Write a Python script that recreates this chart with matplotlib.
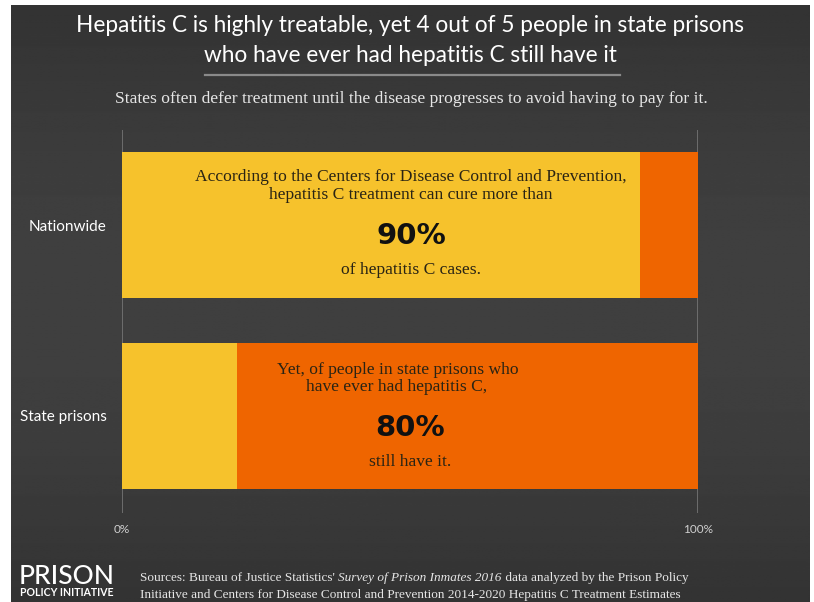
import numpy as np
import matplotlib.pyplot as plt

# Share of people who have had hepatitis C: cleared (yellow) vs still infected (orange)
categories = ['Nationwide', 'State prisons']
cleared = [90, 20]
still_have = [10, 80]
headline = [90, 80]
tick_pos = [0, 100]
tick_labels = ['0%', '100%']

title_lines = ['Hepatitis C is highly treatable, yet 4 out of 5 people in state prisons',
               'who have ever had hepatitis C still have it']
subtitle = 'States often defer treatment until the disease progresses to avoid having to pay for it.'

YELLOW = '#F6C22C'
ORANGE = '#EF6500'
SANS = ['Lato', 'DejaVu Sans']
SERIF = ['Liberation Serif', 'DejaVu Serif']

W, H = 814, 602
fig = plt.figure(figsize=(W / 100, H / 100), dpi=100, facecolor='white')

def fx(px):
    return px / W

def fy(py):
    return 1 - py / H

# dark panel with a soft vertical gradient
bg = fig.add_axes([fx(11), 0, fx(810) - fx(11), fy(5)])
grad = np.linspace(0, 1, 256)
shade = 0.20 + 0.05 * np.sin(np.pi * grad)
bg.imshow(np.repeat(shade[:, None], 2, axis=1), cmap='gray', vmin=0, vmax=1,
          aspect='auto', extent=[0, 1, 0, 1])
bg.axis('off')

# bars
ax = fig.add_axes([fx(122), fy(513), fx(698) - fx(122), fy(130) - fy(513)])
ax.set_facecolor('none')
y = np.arange(len(categories))
ax.barh(y, cleared, height=0.765, color=YELLOW, zorder=2)
ax.barh(y, still_have, left=cleared, height=0.765, color=ORANGE, zorder=2)
for x in tick_pos:
    ax.axvline(x, color='#717171', lw=1.3, zorder=1)
ax.set_xlim(0, 100)
ax.set_ylim(1.51, -0.5)
for s in ax.spines.values():
    s.set_visible(False)
ax.set_xticks(tick_pos)
ax.set_xticklabels(tick_labels, family=SANS, fontsize=8.5, color='#d0d0d0')
ax.set_yticks(y)
ax.set_yticklabels(categories, family=SANS, fontsize=11, color='white')
ax.tick_params(length=0)
ax.tick_params(axis='x', pad=8)
ax.tick_params(axis='y', pad=11)

# notes inside the bars
txt = dict(family=SERIF, fontsize=12.6, color='#2a2414', ha='center', va='center')
big = dict(family=['DejaVu Sans'], fontsize=21, fontweight='bold', color='#111111',
           ha='center', va='center')
ax.text(50.2, -0.251, 'According to the Centers for Disease Control and Prevention,', **txt)
ax.text(50.2, -0.157, 'hepatitis C treatment can cure more than', **txt)
ax.text(50.2, 0.058, f'{headline[0]}%', **big)
ax.text(50.2, 0.236, 'of hepatitis C cases.', **txt)
ax.text(47.9, 0.759, 'Yet, of people in state prisons who', **txt)
ax.text(47.6, 0.848, 'have ever had hepatitis C,', **txt)
ax.text(50.0, 1.063, f'{headline[1]}%', **big)
ax.text(50.0, 1.241, 'still have it.', **txt)

# heading
for line, py in zip(title_lines, [26, 55]):
    fig.text(fx(410), fy(py), line, family=SANS, fontsize=16.3, color='white',
             ha='center', va='center')
fig.add_artist(plt.Line2D([fx(205), fx(620)], [fy(75), fy(75)], color='#8a8a8a', lw=1.6))
fig.text(fx(411), fy(99), subtitle, family=SERIF, fontsize=12.6, color='#e6e6e6',
         ha='center', va='center')

# logo
fig.text(fx(19), fy(576), 'PRISON', family=SANS, fontsize=19, fontweight='medium',
         color='white', ha='left', va='center')
fig.text(fx(20), fy(593), 'POLICY INITIATIVE', family=SANS, fontsize=7.6, fontweight='bold',
         color='white', ha='left', va='center')

# sources, with the survey title in italics
renderer = fig.canvas.get_renderer()
src = dict(family=SERIF, fontsize=9.5, color='#e6e6e6', va='center')
x0 = fx(140)
parts = [("Sources: Bureau of Justice Statistics' ", 'normal'),
         ('Survey of Prison Inmates 2016', 'italic'),
         (' data analyzed by the Prison Policy', 'normal')]
xc = x0
for s, style in parts:
    t = fig.text(xc, fy(578), s, style=style, ha='left', **src)
    xc += t.get_window_extent(renderer).width / W
fig.text(x0, fy(595), 'Initiative and Centers for Disease Control and Prevention '
         '2014-2020 Hepatitis C Treatment Estimates', ha='left', **src)

fig.savefig('out.png', dpi=100, facecolor='white')
